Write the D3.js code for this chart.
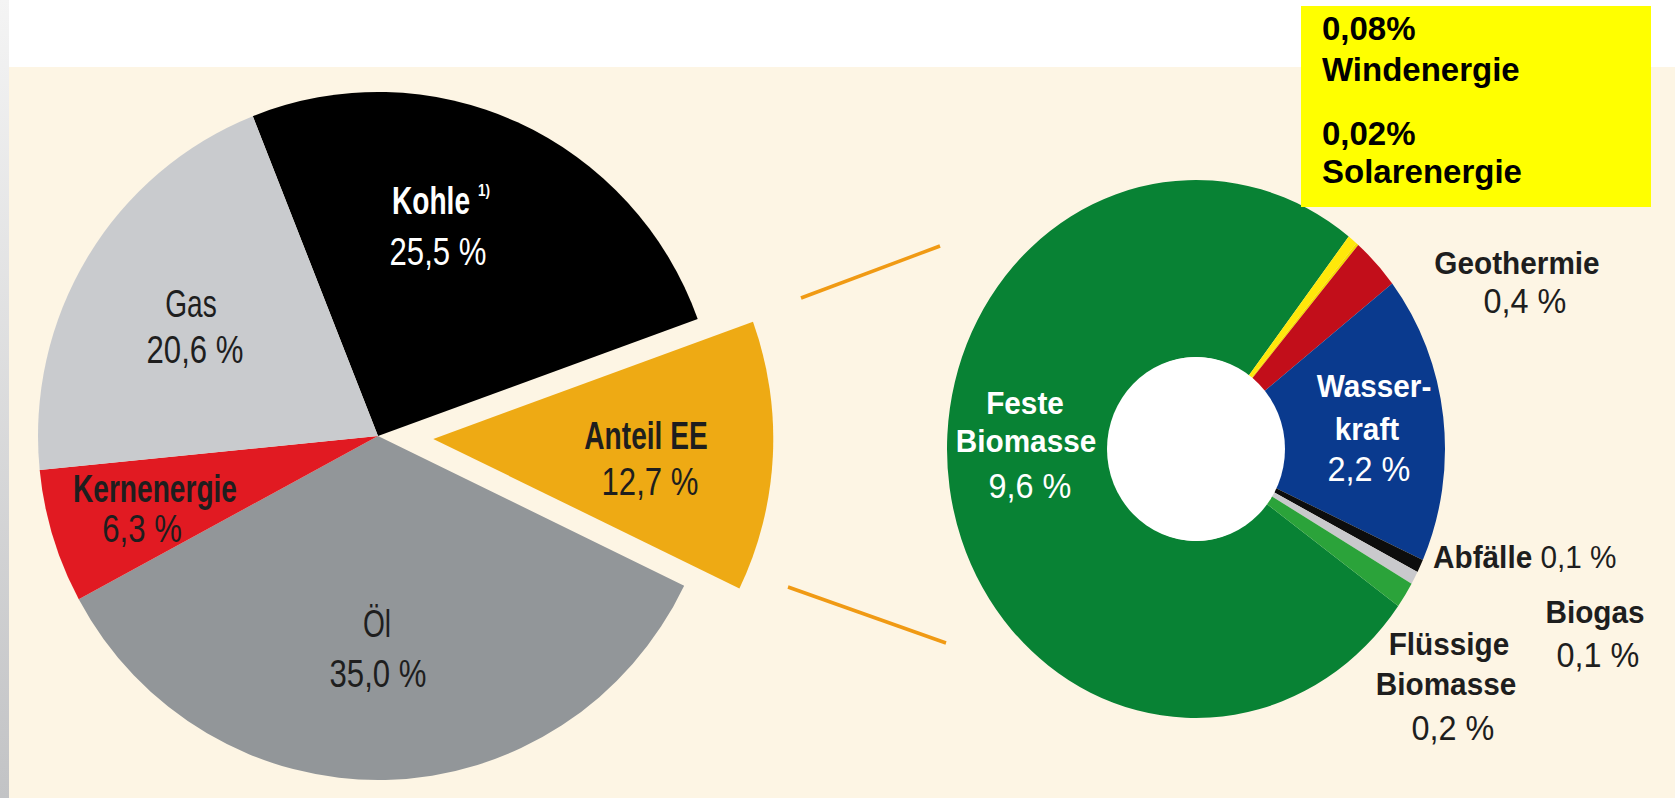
<!DOCTYPE html>
<html>
<head>
<meta charset="utf-8">
<script src="https://cdn.jsdelivr.net/npm/d3@7"></script>
<style>
  body { margin: 0; background: #fff; }
  svg { display: block; }
</style>
</head>
<body>
<svg id="chart" width="1675" height="798"></svg>
<script>
// Primärenergieverbrauch, Anteile in %
const energyNames = ["Kohle", "Anteil EE", "Öl", "Kernenergie", "Gas"];
const energyShares = [25.5, 12.7, 35.0, 6.3, 20.6];
const energyColors = ["#000000", "#eeaa14", "#929699", "#e11a22", "#c9cbce"];

// Aufteilung der erneuerbaren Energien
const eeNames = ["Feste Biomasse", "Windenergie", "Solarenergie", "Geothermie",
                 "Wasserkraft", "Abfälle", "Biogas", "Flüssige Biomasse"];
const eeShares = [9.6, 0.08, 0.02, 0.4, 2.2, 0.1, 0.1, 0.2];
const eeColors = ["#088234", "#ffe80a", "#f6dc00", "#c20e1a",
                  "#0a3a8e", "#0d0d0d", "#c9c9cc", "#2ba33a"];

const BG = "#fdf5e4";
const DARK = "#1e1e1e";
const deg = Math.PI / 180;
const pct = (v, p) => d3.format("." + p + "f")(v).replace(".", ",");

const svg = d3.select("#chart");

// background
const grad = svg.append("defs").append("linearGradient")
  .attr("id", "strip").attr("x1", 0).attr("y1", 0).attr("x2", 0).attr("y2", 1);
grad.append("stop").attr("offset", "0%").attr("stop-color", "#f4f4f4");
grad.append("stop").attr("offset", "100%").attr("stop-color", "#c2c3c5");
svg.append("rect").attr("width", 1675).attr("height", 798).attr("fill", "#fff");
svg.append("rect").attr("x", 9).attr("y", 67).attr("width", 1666).attr("height", 731).attr("fill", BG);
svg.append("rect").attr("x", 0).attr("y", 0).attr("width", 9).attr("height", 798).attr("fill", "url(#strip)");

// text helper: condensed look through a horizontal scale
function label(x, y, txt, o) {
  const t = svg.append("text")
    .attr("transform", `translate(${x},${y}) scale(${o.sx || 1},1)`)
    .attr("text-anchor", o.anchor || "middle")
    .attr("font-family", "'Liberation Sans', Arial, sans-serif")
    .attr("font-size", o.size)
    .attr("font-weight", o.bold ? "bold" : "normal")
    .attr("fill", o.fill || DARK);
  if (txt !== null) t.text(txt);
  return t;
}

// ---- left pie ----
const leftStart = -21.6 * deg;
const leftPie = d3.pie().sort(null).value(d => d)
  .startAngle(leftStart).endAngle(leftStart + 2 * Math.PI)(energyShares);
const R1 = 344;
const arc1 = d3.arc().innerRadius(0).outerRadius(R1);
const g1 = svg.append("g").attr("transform", `translate(378,436) scale(${340 / R1},1)`);
g1.selectAll("path").data(leftPie).join("path")
  .attr("d", arc1)
  .attr("fill", (d, i) => energyColors[i])
  .attr("transform", d => {
    if (energyNames[d.index] !== "Anteil EE") return null;
    const mid = (d.startAngle + d.endAngle) / 2;
    return `translate(${56 * Math.sin(mid)},${-56 * Math.cos(mid)})`;
  });

// connector lines to the EE ring
svg.append("line").attr("x1", 801).attr("y1", 298).attr("x2", 940).attr("y2", 246)
  .attr("stroke", "#f09a14").attr("stroke-width", 3.5);
svg.append("line").attr("x1", 788).attr("y1", 587).attr("x2", 946).attr("y2", 643)
  .attr("stroke", "#f09a14").attr("stroke-width", 3.5);

// ---- EE ring ----
const ringStart = 125.7 * deg;
const ringPie = d3.pie().sort(null).value(d => d)
  .startAngle(ringStart).endAngle(ringStart + 2 * Math.PI)(eeShares);
const R2 = 269;
const arc2 = d3.arc().innerRadius(92).outerRadius(R2);
const g2 = svg.append("g").attr("transform", `translate(1196,449) scale(${249 / R2},1)`);
g2.selectAll("path").data(ringPie).join("path")
  .attr("d", arc2)
  .attr("fill", (d, i) => eeColors[i]);
svg.append("ellipse").attr("cx", 1196).attr("cy", 449).attr("rx", 89).attr("ry", 92).attr("fill", "#fff");

// ---- labels, left pie ----
const nameStyle = { size: 38, bold: true, sx: 0.74 };
const valStyle = { size: 38, sx: 0.82 };
const share = n => energyShares[energyNames.indexOf(n)];

label(431, 214, "Kohle", { ...nameStyle, fill: "#fff" });
label(478, 196, "1)", { size: 17, bold: true, sx: 0.8, anchor: "start", fill: "#fff" });
label(438, 265, pct(share("Kohle"), 1) + " %", { ...valStyle, fill: "#fff" });
label(191, 317, "Gas", { ...valStyle, sx: 0.74 });
label(195, 363, pct(share("Gas"), 1) + " %", valStyle);
label(155, 502, "Kernenergie", nameStyle);
label(142, 542, pct(share("Kernenergie"), 1) + " %", valStyle);
label(377, 637, "Öl", { ...valStyle, sx: 0.74 });
label(378, 687, pct(share("Öl"), 1) + " %", valStyle);
label(646, 449, "Anteil EE", nameStyle);
label(650, 495, pct(share("Anteil EE"), 1) + " %", valStyle);

// ---- labels, ring ----
const rName = { size: 32, bold: true, sx: 0.93 };
const rVal = { size: 36, sx: 0.9 };
const eeShare = n => eeShares[eeNames.indexOf(n)];

label(1025, 414, "Feste", { ...rName, fill: "#fff" });
label(1026, 452, "Biomasse", { ...rName, fill: "#fff" });
label(1030, 498, pct(eeShare("Feste Biomasse"), 1) + " %", { ...rVal, fill: "#fff" });
label(1374, 397, "Wasser-", { ...rName, fill: "#fff" });
label(1367, 440, "kraft", { ...rName, fill: "#fff" });
label(1369, 481, pct(eeShare("Wasserkraft"), 1) + " %", { ...rVal, fill: "#fff" });
label(1517, 274, "Geothermie", rName);
label(1525, 313, pct(eeShare("Geothermie"), 1) + " %", rVal);
const abf = label(1433, 568, null, { size: 32, sx: 0.93, anchor: "start" });
abf.append("tspan").attr("font-weight", "bold").text("Abfälle");
abf.append("tspan").text(" " + pct(eeShare("Abfälle"), 1) + " %");
label(1595, 623, "Biogas", rName);
label(1598, 667, pct(eeShare("Biogas"), 1) + " %", rVal);
label(1449, 655, "Flüssige", rName);
label(1446, 695, "Biomasse", rName);
label(1453, 740, pct(eeShare("Flüssige Biomasse"), 1) + " %", rVal);

// ---- yellow note box ----
svg.append("rect").attr("x", 1301).attr("y", 6).attr("width", 350).attr("height", 201).attr("fill", "#ffff00");
const note = { size: 33, bold: true, anchor: "start", fill: "#000" };
label(1322, 40, pct(eeShare("Windenergie"), 2) + "%", note);
label(1322, 81, "Windenergie", note);
label(1322, 145, pct(eeShare("Solarenergie"), 2) + "%", note);
label(1322, 183, "Solarenergie", note);
</script>
</body>
</html>
